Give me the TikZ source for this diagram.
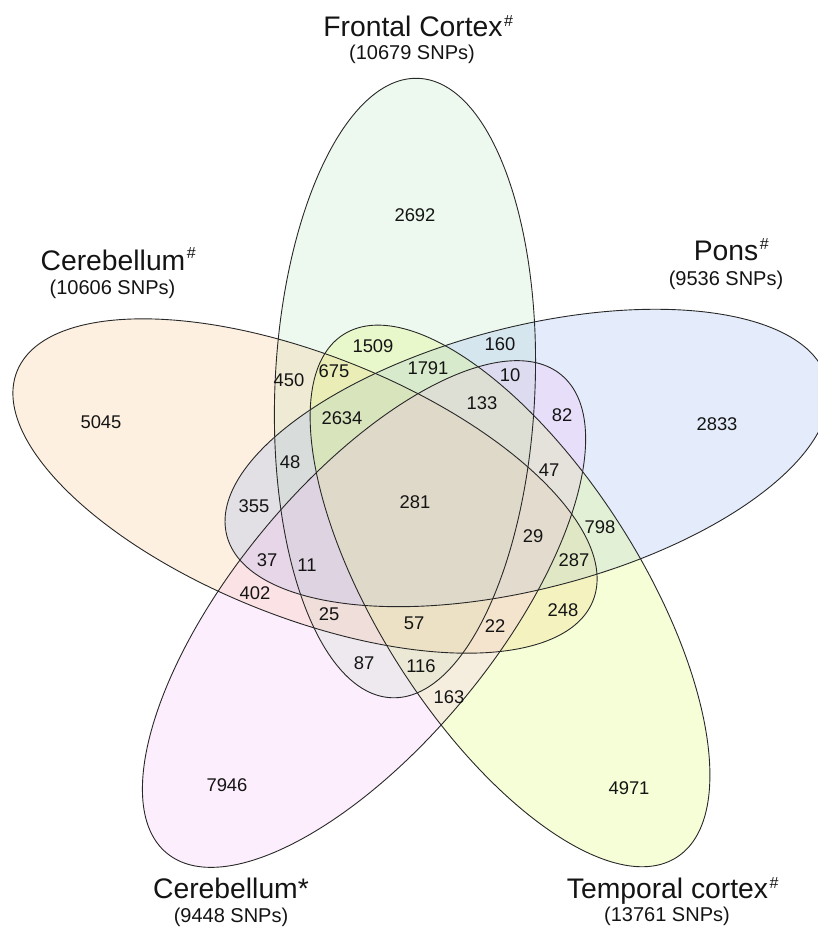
\documentclass[tikz,border=0pt]{standalone}
\usepackage{fontspec}
\setmainfont{Liberation Sans}
\definecolor{ink}{RGB}{20,20,20}
\definecolor{rimgray}{RGB}{40,40,40}
\definecolor{frontalfill}{RGB}{183,227,187}
\definecolor{cerebfill}{RGB}{247,195,131}
\definecolor{ponsfill}{RGB}{147,179,243}
\definecolor{temporalfill}{RGB}{219,251,99}
\definecolor{cerebstarfill}{RGB}{243,187,243}
\newcommand\hashsup[1]{\rlap{\hspace{1.5pt}\raisebox{#1}{\fontsize{16}{16}\selectfont\#}}}
\begin{document}
\begin{tikzpicture}[x=1pt,y=-1pt,
  setfill/.style={fill=#1, fill opacity=0.25},
  rim/.style={draw=rimgray, line width=0.9pt},
  count/.style={font=\fontsize{18.4}{18}\selectfont, text=ink, inner sep=0pt},
  settitle/.style={font=\fontsize{28.3}{30}\selectfont, text=ink, inner sep=0pt, anchor=base},
  setsize/.style={font=\fontsize{20}{22}\selectfont, text=ink, inner sep=0pt, anchor=base}]
\useasboundingbox (0,0) rectangle (818,929);
\begin{scope}
\clip (0,0) rectangle (818,929);
% ellipse centres
\coordinate (cF) at (405,388);
\coordinate (cC) at (305,486);
\coordinate (cP) at (527,458);
\coordinate (cT) at (510,596);
\coordinate (cS) at (364,614);
% translucent fills
\fill[setfill=frontalfill, rotate around={87.5:(cF)}] (cF) ellipse [x radius=310pt, y radius=130pt];
\fill[setfill=cerebfill, rotate around={158.3:(cC)}] (cC) ellipse [x radius=310pt, y radius=131pt];
\fill[setfill=ponsfill, rotate around={14.5:(cP)}] (cP) ellipse [x radius=310pt, y radius=131pt];
\fill[setfill=temporalfill, rotate around={302.5:(cT)}] (cT) ellipse [x radius=310pt, y radius=131pt];
\fill[setfill=cerebstarfill, rotate around={230.5:(cS)}] (cS) ellipse [x radius=310pt, y radius=131pt];
% outlines
\draw[rim, rotate around={87.5:(cF)}] (cF) ellipse [x radius=310pt, y radius=130pt];
\draw[rim, rotate around={158.3:(cC)}] (cC) ellipse [x radius=310pt, y radius=131pt];
\draw[rim, rotate around={14.5:(cP)}] (cP) ellipse [x radius=310pt, y radius=131pt];
\draw[rim, rotate around={302.5:(cT)}] (cT) ellipse [x radius=310pt, y radius=131pt];
\draw[rim, rotate around={230.5:(cS)}] (cS) ellipse [x radius=310pt, y radius=131pt];
\end{scope}
% region counts
\foreach \v/\x/\y in {2692/415/215, 5045/101/422, 2833/717/424, 7946/227/785,
  4971/629/788, 1509/373/346, 675/334/371, 450/289/380, 2634/342/418,
  48/290/462, 355/254/506, 1791/428/368, 160/500/344, 10/510/375,
  133/482/403, 82/562/415, 47/549/470, 281/415/502, 11/307/565,
  37/267/560, 402/255/593, 25/329/614, 57/414/623, 87/364/663,
  116/421/666, 163/449/697, 22/495/626, 29/533/536, 287/574/560,
  248/563/610, 798/600/527}
  \node[count] (n\v) at (\x,\y) {\v};
% set labels
\node[settitle] (tFrontal) at (413,36) {Frontal Cortex\hashsup{10pt}};
\node[setsize] (sFrontal) at (412,59) {(10679 SNPs)};
\node[settitle] (tCereb) at (113,270) {Cerebellum\hashsup{12pt}};
\node[setsize] (sCereb) at (112.5,294) {(10606 SNPs)};
\node[settitle] (tPons) at (726,260) {Pons\hashsup{11pt}};
\node[setsize] (sPons) at (726,285) {(9536 SNPs)};
\node[settitle] (tCerebStar) at (231,898) {Cerebellum*};
\node[setsize] (sCerebStar) at (231,922) {(9448 SNPs)};
\node[settitle] (tTemporal) at (667.5,898) {Temporal cortex\hashsup{10pt}};
\node[setsize] (sTemporal) at (667,921) {(13761 SNPs)};
\end{tikzpicture}
\end{document}
